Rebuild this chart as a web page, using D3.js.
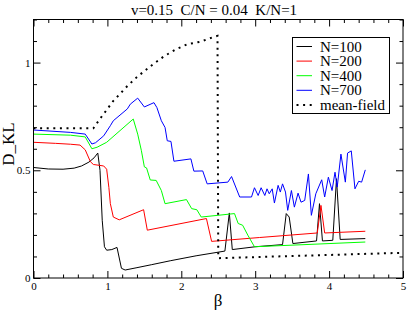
<!DOCTYPE html>
<html>
<head>
<meta charset="utf-8">
<script src="https://cdn.jsdelivr.net/npm/d3@7"></script>
<style>
body { margin: 0; background: #fff; }
svg { display: block; }
text { font-family: "Liberation Serif", "Times New Roman", serif; fill: #000; }
</style>
</head>
<body>
<div id="graph"></div>
<script>
// data
var title = "v=0.15  C/N = 0.04  K/N=1"
var xTicks = [0, 1, 2, 3, 4, 5]
var yTicks = [0, 0.5, 1]
var seriesNames = ["N=100", "N=200", "N=400", "N=700", "mean-field"]
var seriesColors = ["#000000", "#ff0000", "#00ff00", "#0000ff", "#000000"]

var beta100 = [0, 0.2, 0.4, 0.55, 0.65, 0.75, 0.82, 0.87, 0.9, 0.93, 0.96, 0.99, 1.06, 1.13, 1.19, 1.24, 1.4, 1.6, 1.85, 2.2, 2.59, 2.65, 2.69, 3.0, 3.37, 3.42, 3.46, 3.51, 3.83, 3.87, 3.91, 4.05, 4.1, 4.15, 4.49]
var dkl100 = [0.513, 0.506, 0.505, 0.51, 0.52, 0.538, 0.558, 0.58, 0.5, 0.268, 0.145, 0.129, 0.132, 0.142, 0.045, 0.037, 0.048, 0.062, 0.08, 0.103, 0.125, 0.302, 0.132, 0.145, 0.155, 0.299, 0.283, 0.16, 0.172, 0.345, 0.172, 0.175, 0.461, 0.179, 0.183]

var beta200 = [0, 0.3, 0.5, 0.63, 0.7, 0.77, 0.81, 0.95, 0.99, 1.02, 1.04, 1.08, 1.16, 1.49, 1.54, 2.34, 2.41, 3.06, 3.84, 3.89, 3.94, 4.49]
var dkl200 = [0.63, 0.625, 0.621, 0.617, 0.595, 0.54, 0.527, 0.52, 0.505, 0.42, 0.345, 0.283, 0.27, 0.317, 0.222, 0.276, 0.17, 0.188, 0.209, 0.337, 0.209, 0.217]

var beta400 = [0, 0.5, 0.7, 0.79, 0.86, 0.99, 1.35, 1.41, 1.46, 1.5, 1.53, 1.58, 1.66, 1.73, 1.78, 2.07, 2.14, 2.21, 2.27, 2.72, 2.77, 2.83, 2.9, 2.99, 4.49]
var dkl400 = [0.668, 0.663, 0.655, 0.6, 0.607, 0.63, 0.738, 0.668, 0.591, 0.516, 0.511, 0.455, 0.453, 0.406, 0.345, 0.364, 0.322, 0.317, 0.283, 0.299, 0.253, 0.245, 0.199, 0.145, 0.167]

var beta700 = [0, 0.5, 0.7, 0.79, 0.84, 0.95, 1.04, 1.08, 1.27, 1.31, 1.41, 1.5, 1.63, 1.67, 1.73, 1.78, 1.81, 1.86, 1.9, 2.13, 2.17, 2.29, 2.35, 2.63, 2.68, 2.79, 2.95, 2.99, 3.04, 3.08, 3.13, 3.16, 3.19, 3.23, 3.26, 3.31, 3.34, 3.37, 3.41, 3.44, 3.49, 3.53, 3.58, 3.62, 3.67, 3.72, 3.76, 3.82, 3.9, 3.94, 3.99, 4.04, 4.08, 4.11, 4.16, 4.22, 4.25, 4.3, 4.35, 4.4, 4.44, 4.49]
var dkl700 = [0.687, 0.676, 0.668, 0.622, 0.628, 0.66, 0.707, 0.73, 0.785, 0.807, 0.835, 0.794, 0.814, 0.791, 0.73, 0.699, 0.637, 0.634, 0.542, 0.553, 0.496, 0.497, 0.437, 0.445, 0.471, 0.376, 0.376, 0.419, 0.383, 0.419, 0.383, 0.414, 0.391, 0.414, 0.348, 0.43, 0.399, 0.437, 0.399, 0.314, 0.406, 0.329, 0.394, 0.352, 0.36, 0.483, 0.291, 0.391, 0.456, 0.376, 0.468, 0.406, 0.491, 0.422, 0.575, 0.445, 0.58, 0.59, 0.414, 0.449, 0.445, 0.502]

var betaMF = [0, 0.81, 0.9, 1.08, 1.27, 1.4, 1.62, 1.77, 1.93, 2.08, 2.25, 2.43, 2.49, 2.5, 5]
var dklMF = [0.695, 0.695, 0.739, 0.822, 0.891, 0.933, 0.993, 1.03, 1.062, 1.085, 1.096, 1.118, 1.124, 0.092, 0.117]

var width = 407, height = 310
var margin = {top: 19.5, left: 33.5, bottom: 32, right: 4}
var chartWidth = width - margin.left - margin.right
var chartHeight = height - margin.top - margin.bottom

var svg = d3.select("#graph").append("svg")
	.attr("width", width)
	.attr("height", height)

var x = d3.scaleLinear().domain([0, 5]).range([0, chartWidth])
var y = d3.scaleLinear().domain([0, 1.2]).range([chartHeight, 0])

var chartLayer = svg.append("g")
	.attr("transform", "translate(" + [margin.left, margin.top] + ")")

var xMinor = d3.range(0, 5.01, 0.2).filter(function(v){ return Math.abs(v - Math.round(v)) > 1e-6 })
var yMinor = d3.range(0, 1.21, 0.1).filter(function(v){ return Math.abs(v * 2 - Math.round(v * 2)) > 1e-6 })

function styleAxis(g) {
	g.select(".domain").remove()
	g.selectAll("line").attr("stroke", "#000")
	g.selectAll("text").style("font-size", "11px").style("font-family", "Liberation Serif, serif")
}

// bottom and top
chartLayer.append("g").attr("transform", "translate(0," + chartHeight + ")")
	.call(d3.axisBottom(x).tickValues(xTicks).tickSizeInner(-7).tickPadding(4).tickFormat(d3.format("d")))
	.call(styleAxis)
chartLayer.append("g").attr("transform", "translate(0," + chartHeight + ")")
	.call(d3.axisBottom(x).tickValues(xMinor).tickSizeInner(-3.5).tickFormat(""))
	.call(styleAxis)
chartLayer.append("g")
	.call(d3.axisTop(x).tickValues(xTicks).tickSizeInner(-7).tickFormat(""))
	.call(styleAxis)
chartLayer.append("g")
	.call(d3.axisTop(x).tickValues(xMinor).tickSizeInner(-3.5).tickFormat(""))
	.call(styleAxis)
// left and right
chartLayer.append("g")
	.call(d3.axisLeft(y).tickValues(yTicks).tickSizeInner(-7).tickPadding(3).tickFormat(d3.format("")))
	.call(styleAxis)
chartLayer.append("g")
	.call(d3.axisLeft(y).tickValues(yMinor).tickSizeInner(-3.5).tickFormat(""))
	.call(styleAxis)
chartLayer.append("g").attr("transform", "translate(" + chartWidth + ",0)")
	.call(d3.axisRight(y).tickValues(yTicks).tickSizeInner(-7).tickFormat(""))
	.call(styleAxis)
chartLayer.append("g").attr("transform", "translate(" + chartWidth + ",0)")
	.call(d3.axisRight(y).tickValues(yMinor).tickSizeInner(-3.5).tickFormat(""))
	.call(styleAxis)

var line = d3.line()
	.x(function(d){ return x(d[0]) })
	.y(function(d){ return y(d[1]) })

var series = [
	d3.zip(beta100, dkl100),
	d3.zip(beta200, dkl200),
	d3.zip(beta400, dkl400),
	d3.zip(beta700, dkl700),
	d3.zip(betaMF, dklMF)
]

chartLayer.append("g").selectAll("path")
	.data(series)
	.enter().append("path")
	.attr("d", line)
	.attr("fill", "none")
	.attr("stroke", function(d, i){ return seriesColors[i] })
	.attr("stroke-width", function(d, i){ return i == 4 ? 2 : 1 })
	.attr("stroke-dasharray", function(d, i){ return i == 4 ? "2,4.6" : null })

// frame
chartLayer.append("rect")
	.attr("width", chartWidth).attr("height", chartHeight)
	.attr("fill", "none").attr("stroke", "#000").attr("stroke-width", 1)

// title and axis labels
svg.append("text")
	.attr("x", 214).attr("y", 15)
	.attr("text-anchor", "middle")
	.style("font-size", "15px")
	.style("white-space", "pre")
	.text(title)
svg.append("text")
	.attr("x", 218).attr("y", 306)
	.attr("text-anchor", "middle")
	.style("font-size", "17px")
	.text("β")
svg.append("text")
	.attr("transform", "translate(14,144) rotate(-90)")
	.attr("text-anchor", "middle")
	.style("font-size", "17px")
	.text("D_KL")

// legend
var legend = svg.append("g").attr("transform", "translate(292.5,37.5)")
legend.append("rect")
	.attr("width", 97).attr("height", 76)
	.attr("fill", "#fff").attr("stroke", "#000").attr("stroke-width", 1)
var item = legend.selectAll("g.item")
	.data(seriesNames)
	.enter().append("g")
	.attr("class", "item")
	.attr("transform", function(d, i){ return "translate(0," + (9 + i * 14.6) + ")" })
item.append("line")
	.attr("x1", 4).attr("x2", 19.5)
	.attr("stroke", function(d, i){ return seriesColors[i] })
	.attr("stroke-width", function(d, i){ return i == 4 ? 2 : 1 })
	.attr("stroke-dasharray", function(d, i){ return i == 4 ? "2,4.6" : null })
item.append("text")
	.attr("x", 27.5).attr("y", 5)
	.style("font-size", "15px")
	.text(function(d){ return d })
</script>
</body>
</html>
